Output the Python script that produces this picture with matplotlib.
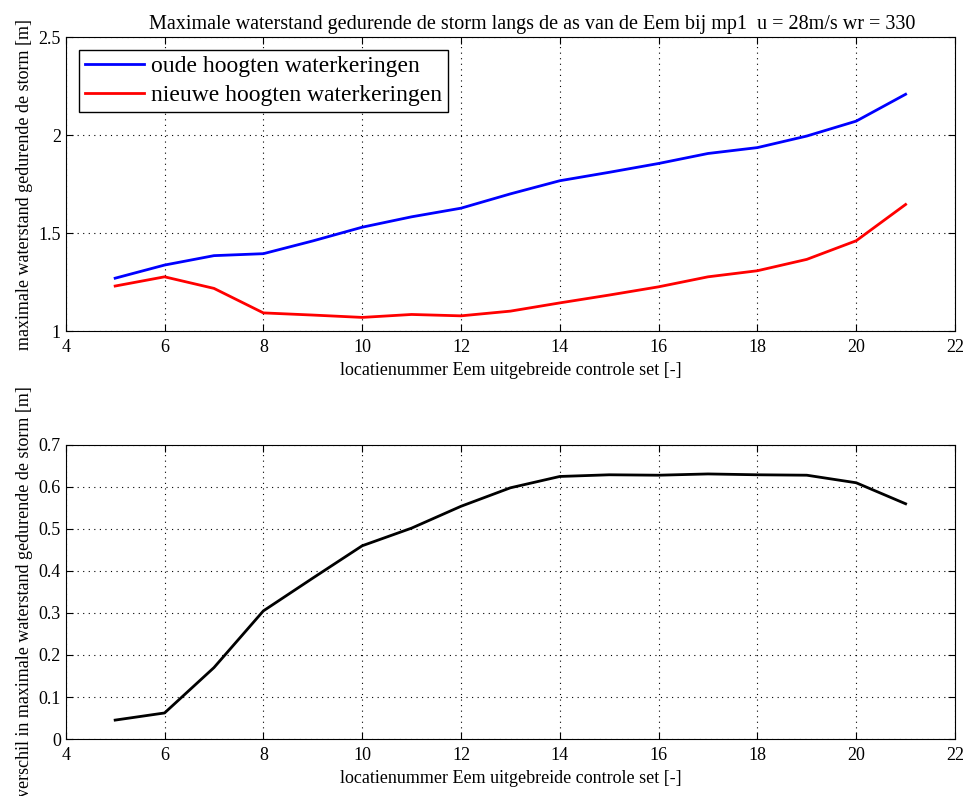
import matplotlib
matplotlib.use('Agg')
from matplotlib import pyplot as plt

locaties = [5, 6, 7, 8, 9, 10, 11, 12, 13, 14, 15, 16, 17, 18, 19, 20, 21]
oud = [1.27, 1.337, 1.385, 1.395, 1.46, 1.53, 1.583, 1.627, 1.70, 1.767, 1.81, 1.855, 1.906, 1.936, 1.995, 2.071, 2.208]
nieuw = [1.23, 1.277, 1.218, 1.093, 1.082, 1.07, 1.085, 1.078, 1.102, 1.144, 1.184, 1.226, 1.277, 1.308, 1.366, 1.461, 1.646]
verschil = [0.045, 0.062, 0.170, 0.305, 0.383, 0.46, 0.502, 0.554, 0.598, 0.625, 0.629, 0.628, 0.631, 0.629, 0.628, 0.610, 0.560]

plt.rcParams['font.family'] = ['Liberation Serif', 'DejaVu Serif']
plt.rcParams['font.size'] = 13

fig = plt.figure(figsize=(9.67, 7.96), dpi=100)
ax1 = fig.add_axes([0.068, 0.584, 0.9196, 0.3695])
ax2 = fig.add_axes([0.068, 0.0716, 0.9196, 0.3694])

ax1.plot(locaties, oud, color='#0000ff', lw=2, label='oude hoogten waterkeringen')
ax1.plot(locaties, nieuw, color='#ff0000', lw=2, label='nieuwe hoogten waterkeringen')
ax1.set_ylim(1, 2.5)
ax1.set_yticks([1, 1.5, 2, 2.5])
ax1.set_yticklabels(['1', '1.5', '2', '2.5'])
ax1.set_ylabel('maximale waterstand gedurende de storm [m]', fontsize=13, labelpad=4)
ax1.set_title('Maximale waterstand gedurende de storm langs de as van de Eem bij mp1  u = 28m/s wr = 330',
              fontsize=14.5, pad=6, x=0.524)
leg = ax1.legend(loc='upper left', fontsize=17, fancybox=False, framealpha=1,
                 edgecolor='black', borderpad=0.25, labelspacing=0.3, handlelength=2.5,
                 handletextpad=0.3, borderaxespad=0.55)
leg.get_frame().set_linewidth(1.0)

ax2.plot(locaties, verschil, color='black', lw=2)
ax2.set_ylim(0, 0.7)
ax2.set_yticks([0, 0.1, 0.2, 0.3, 0.4, 0.5, 0.6, 0.7])
ax2.set_yticklabels(['0', '0.1', '0.2', '0.3', '0.4', '0.5', '0.6', '0.7'])
ax2.set_ylabel('verschil in maximale waterstand gedurende de storm [m]', fontsize=13, labelpad=4)

for ax in (ax1, ax2):
    ax.set_xlim(4, 22)
    ax.set_xticks(range(4, 23, 2))
    ax.set_xlabel('locatienummer Eem uitgebreide controle set [-]', fontsize=13, labelpad=4)
    ax.grid(True, color='black', linestyle=(0, (1, 4)), linewidth=0.8)
    ax.tick_params(direction='in', top=True, right=True, labelsize=13, length=5)
    ax.tick_params(axis='x', pad=6)
    for s in ax.spines.values():
        s.set_linewidth(0.8)

fig.savefig('out.png', dpi=100)
